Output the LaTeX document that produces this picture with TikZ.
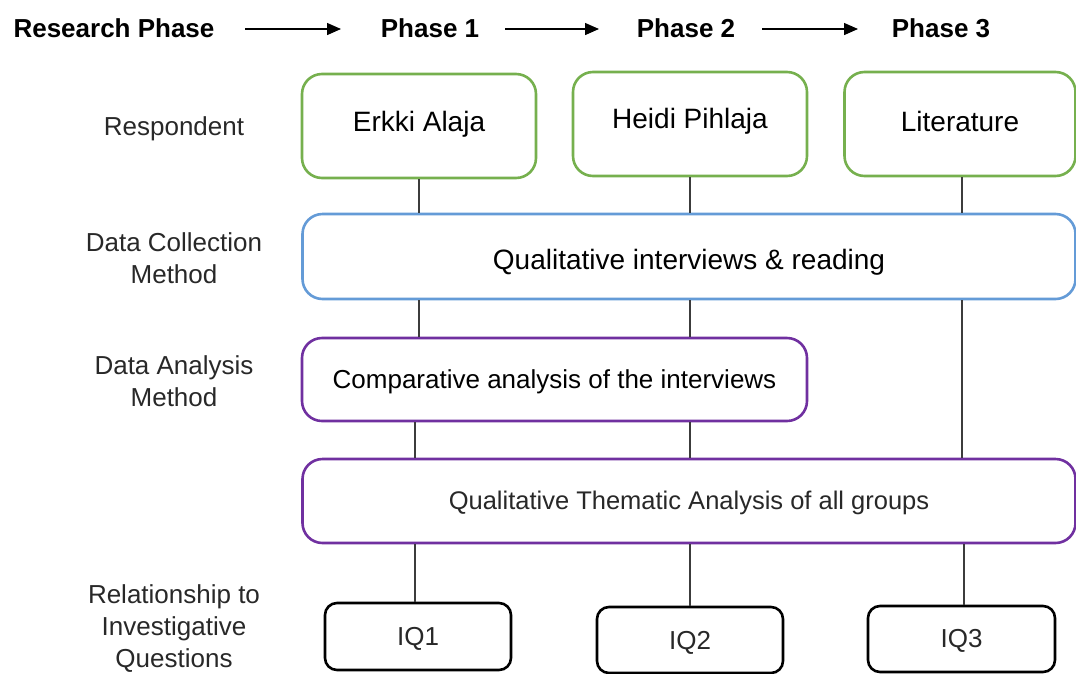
\documentclass[tikz,border=0pt]{standalone}
\usepackage{fontspec}
\setmainfont{Liberation Sans}
\usetikzlibrary{arrows.meta}
\definecolor{respgreen}{RGB}{118,176,78}
\definecolor{collblue}{RGB}{100,155,215}
\definecolor{anapurple}{RGB}{112,48,160}
\definecolor{linegray}{RGB}{60,60,60}
\definecolor{txtgray}{RGB}{40,40,40}
\tikzset{
  rowlabel/.style={align=center, font=\fontsize{26}{32}\selectfont, text=txtgray},
  phasehead/.style={font=\fontsize{26}{30}\selectfont\bfseries},
  box/.style={draw, line width=2.6pt, rounded corners=20pt, fill=white, inner sep=0pt, align=center},
  bigtext/.style={font=\fontsize{28}{32}\selectfont, text height=20pt, text depth=6pt},
  midtext/.style={font=\fontsize{26}{30}\selectfont, text height=18.5pt, text depth=5.5pt},
  respbox/.style={box, draw=respgreen, bigtext},
  collbox/.style={box, draw=collblue, bigtext},
  anabox/.style={box, draw=anapurple, midtext},
  iqbox/.style={draw, line width=2.6pt, rounded corners=12pt, fill=white, inner sep=0pt, midtext, text=txtgray},
  link/.style={draw=linegray, line width=1.3pt},
  flow/.style={line width=1.4pt, -{Triangle[length=14pt,width=12pt]}}
}
\begin{document}
\begin{tikzpicture}[x=1pt, y=-1pt]
\useasboundingbox (0,0) rectangle (1076,673);

% header row
\node[phasehead] (rp) at (114,28) {Research Phase};
\node[phasehead] (p1) at (430,28) {Phase 1};
\node[phasehead] (p2) at (686,28) {Phase 2};
\node[phasehead] (p3) at (941,28) {Phase 3};
\coordinate (a1s) at (245,29); \coordinate (a1e) at (341,29);
\coordinate (a2s) at (505,29); \coordinate (a2e) at (599,29);
\coordinate (a3s) at (762,29); \coordinate (a3e) at (858,29);
\draw[flow] (a1s) -- (a1e);
\draw[flow] (a2s) -- (a2e);
\draw[flow] (a3s) -- (a3e);

% row labels
\node[rowlabel] (lresp) at (174,129) {Respondent};
\node[rowlabel] (lcoll) at (174,258) {Data Collection\\Method};
\node[rowlabel] (lana) at (174,381) {Data Analysis\\Method};
\node[rowlabel] (lrel) at (174,629) {Relationship to\\Investigative\\Questions};

% respondents
\node[respbox, minimum width=234pt, minimum height=104pt] (r1) at (419,126) {\raisebox{2pt}{Erkki Alaja}};
\node[respbox, minimum width=234pt, minimum height=104pt] (r2) at (690,124) {\raisebox{3pt}{Heidi Pihlaja}};
\node[respbox, minimum width=231pt, minimum height=104pt] (r3) at (960,124) {Literature};

% collection and analysis
\node[collbox, minimum width=773pt, minimum height=85pt] (coll) at (689,256.5) {\raisebox{-5.5pt}{Qualitative interviews \& reading}};
\node[anabox, minimum width=505pt, minimum height=83pt] (comp) at (554.5,379.5) {\raisebox{-2.4pt}{Comparative analysis of the interviews}};
\node[anabox, minimum width=773pt, minimum height=84pt, text=txtgray, font=\fontsize{25.5}{30}\selectfont] (them) at (689,501) {\raisebox{-2pt}{Qualitative Thematic Analysis of all groups}};

% investigative questions
\node[iqbox, minimum width=186pt, minimum height=67pt] (iq1) at (418,636.5) {\raisebox{-2.4pt}{IQ1}};
\node[iqbox, minimum width=186pt, minimum height=66pt] (iq2) at (690,640) {\raisebox{-3pt}{IQ2}};
\node[iqbox, minimum width=187pt, minimum height=66pt] (iq3) at (961.5,639) {\raisebox{-2pt}{IQ3}};

% connectors
\path[link] (r1.south) -- (r1.south |- coll.north);
\path[link] (r2.south) -- (r2.south |- coll.north);
\path[link] ([xshift=2pt]r3.south) -- ([xshift=2pt]r3.south |- coll.north);
\path[link] (coll.south -| r1.south) -- (comp.north -| r1.south);
\path[link] (coll.south -| r2.south) -- (comp.north -| r2.south);
\path[link] ([xshift=2pt]coll.south -| r3.south) -- ([xshift=2pt]them.north -| r3.south);
\path[link] ([xshift=-3pt]comp.south -| iq1.north) -- ([xshift=-3pt]them.north -| iq1.north);
\path[link] (comp.south -| iq2.north) -- (them.north -| iq2.north);
\path[link] ([xshift=-3pt]them.south -| iq1.north) -- ([xshift=-3pt]iq1.north);
\path[link] (them.south -| iq2.north) -- (iq2.north);
\path[link] ([xshift=2.5pt]them.south -| iq3.north) -- ([xshift=2.5pt]iq3.north);
\end{tikzpicture}
\end{document}
